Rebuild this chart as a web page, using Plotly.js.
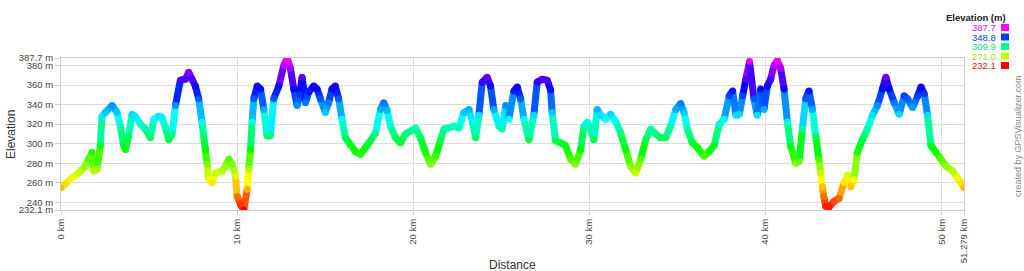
<!DOCTYPE html>
<html><head><meta charset="utf-8">
<script src="https://cdn.plot.ly/plotly-3.0.1.min.js"></script>
<style>html,body{margin:0;padding:0;background:#fff}#chart{width:1024px;height:271px}</style>
</head><body><div id="chart"></div>
<script>
const distanceKm = [0.00,0.25,0.63,1.00,1.38,1.57,1.76,1.86,2.05,2.23,2.33,2.52,2.90,3.18,3.37,3.56,3.66,3.84,4.03,4.22,4.51,4.79,5.08,5.27,5.55,5.74,5.93,6.12,6.31,6.50,6.78,7.06,7.25,7.44,7.63,7.82,8.01,8.10,8.20,8.30,8.39,8.58,8.77,9.15,9.34,9.53,9.72,9.91,10.00,10.19,10.38,10.57,10.66,10.76,10.85,10.95,11.14,11.33,11.52,11.70,11.89,12.08,12.37,12.65,12.84,13.03,13.22,13.41,13.55,13.69,13.88,14.07,14.35,14.54,14.73,15.01,15.20,15.39,15.58,15.77,15.96,16.15,16.43,16.72,17.00,17.29,17.57,17.86,18.14,18.33,18.52,18.71,19.00,19.28,19.56,19.85,20.13,20.42,20.70,20.99,21.27,21.56,21.75,22.03,22.32,22.60,22.88,23.17,23.36,23.55,23.73,23.92,24.20,24.39,24.58,24.87,25.06,25.25,25.43,25.72,25.91,26.10,26.29,26.57,26.85,27.04,27.33,27.61,27.80,27.89,28.08,28.37,28.65,28.94,29.22,29.51,29.70,29.89,30.07,30.26,30.45,30.64,30.93,31.21,31.49,31.78,32.06,32.35,32.63,32.92,33.20,33.49,33.77,34.05,34.34,34.62,34.91,35.19,35.38,35.57,35.85,36.14,36.52,36.80,37.09,37.38,37.66,37.95,38.14,38.33,38.52,38.71,38.89,39.10,39.35,39.54,39.73,39.92,40.11,40.30,40.49,40.68,40.87,41.06,41.25,41.43,41.72,41.91,42.10,42.29,42.48,42.67,42.86,43.04,43.14,43.23,43.32,43.42,43.61,43.90,44.18,44.47,44.66,44.85,45.03,45.22,45.51,45.79,46.08,46.36,46.65,46.84,47.03,47.32,47.60,47.88,48.07,48.36,48.65,48.84,49.02,49.21,49.40,49.69,49.97,50.26,50.64,50.92,51.279];
const elevationM = [255,259,265,270,277,284,291,272,274,298,328,332,339,332,318,298,294,308,330,328,320,315,306,325,328,327,316,304,310,339,365,366,373,366,359,346,322,308,294,279,263,260,270,272,277,284,279,267,246,238,232.1,253,274,294,322,346,359,356,335,308,308,346,359,380,387.7,377,356,339,350,368,342,353,359,356,346,332,342,356,359,346,325,306,299,292,289,296,303,311,335,342,334,318,306,301,310,313,316,306,291,279,287,304,315,316,318,316,332,335,322,306,329,363,368,359,335,318,315,339,325,354,358,346,325,304,329,363,366,365,355,332,303,301,298,284,279,294,318,322,315,304,335,329,325,330,323,311,294,277,270,284,304,315,310,306,306,318,335,341,332,315,301,296,287,292,298,320,325,349,354,329,330,349,366,384,346,329,356,335,359,366,380,385,377,356,322,298,280,282,315,346,354,335,308,284,270,256,246,236,235,241,244,260,268,256,263,291,304,315,329,339,356,368,356,342,330,349,346,337,349,358,351,329,298,291,284,277,272,265,255];
const xTickVals = [0,10,20,30,40,50,51.279];
const xTickText = ['0 km','10 km','20 km','30 km','40 km','50 km','51.279 km'];
const yTickVals = [232.1,240,260,280,300,320,340,360,380,387.7];
const yTickText = ['232.1 m','240 m','260 m','280 m','300 m','320 m','340 m','360 m','380 m','387.7 m'];
const legendValues = [387.7,348.8,309.9,271.0,232.1];
const legendLabels = ['387.7','348.8','309.9','271.0','232.1'];

const yMin = 232.1, yMax = 387.7;
function hslToRgb(h, s, l){
  s/=100; l/=100;
  const k = n => (n + h/30) % 12;
  const a = s*Math.min(l,1-l);
  const f = n => l - a*Math.max(-1, Math.min(k(n)-3, Math.min(9-k(n), 1)));
  return 'rgb(' + Math.round(255*f(0)) + ',' + Math.round(255*f(8)) + ',' + Math.round(255*f(4)) + ')';
}
function hue(v){ return 300*(v-yMin)/(yMax-yMin); }
function col(v){ return hslToRgb(hue(v),100,50); }
function textCol(v){ return hslToRgb(hue(v),85,46); }

const traces = [];
for (let i = 0; i < distanceKm.length-1; i++){
  traces.push({type:'scatter', mode:'lines', x:[distanceKm[i],distanceKm[i+1]], y:[elevationM[i],elevationM[i+1]],
    line:{color:col((elevationM[i]+elevationM[i+1])/2), width:7}, hoverinfo:'skip', showlegend:false});
}
const cs = [];
for (let k = 0; k <= 20; k++){ cs.push([k/20, col(yMin+(yMax-yMin)*k/20)]); }
traces.push({type:'scatter', mode:'markers', x:distanceKm, y:elevationM,
  marker:{size:7, color:elevationM, colorscale:cs, cmin:yMin, cmax:yMax, line:{width:0}}, showlegend:false, hoverinfo:'skip'});

const L = 61, R = 60, T = 58, B = 61, W = 1024, H = 271;
const pw = W-L-R, ph = H-T-B;
const px = X => (X-L)/pw;
const py = Y => (H-B-Y)/ph;

const annotations = [
  {text:'Elevation', x:px(11), y:py(135), xref:'paper', yref:'paper', showarrow:false, textangle:-90, xanchor:'center', yanchor:'middle', font:{size:12, color:'#333'}},
  {text:'Distance', x:px(512), y:py(265), xref:'paper', yref:'paper', showarrow:false, xanchor:'center', yanchor:'middle', font:{size:12, color:'#333'}},
  {text:'<b>Elevation (m)</b>', x:px(976), y:py(17), xref:'paper', yref:'paper', showarrow:false, xanchor:'center', yanchor:'middle', font:{size:9.5, color:'#222'}},
  {text:'created by GPSVisualizer.com', x:px(1018), y:py(137), xref:'paper', yref:'paper', showarrow:false, textangle:-90, xanchor:'center', yanchor:'middle', font:{size:9, color:'#888'}}
];
const shapes = [];
const legY = [27.5, 37, 46.5, 56, 65.5];
legendValues.forEach((v, i) => {
  annotations.push({text:legendLabels[i], x:px(997.5), y:py(legY[i]), xref:'paper', yref:'paper', showarrow:false, xanchor:'right', yanchor:'middle', font:{size:9.5, color:textCol(v)}});
  shapes.push({type:'rect', xref:'paper', yref:'paper', x0:px(1001), x1:px(1009), y0:py(legY[i]+3.5), y1:py(legY[i]-3.5), fillcolor:col(v), line:{width:0}});
});

const layout = {
  width:W, height:H, margin:{l:L, r:R, t:T, b:B}, paper_bgcolor:'#fff', plot_bgcolor:'#fff',
  font:{family:'"Liberation Sans", Arial, sans-serif', color:'#444'},
  showlegend:false,
  xaxis:{range:[0,51.279], tickvals:xTickVals, ticktext:xTickText, tickangle:-90, showgrid:true, gridcolor:'#dcdcdc', zeroline:false,
    showline:true, mirror:true, linecolor:'#cccccc', ticks:'outside', ticklen:4, tickcolor:'#cccccc', tickfont:{size:9.5, color:'#444'}, fixedrange:true},
  yaxis:{range:[yMin,yMax], tickvals:yTickVals, ticktext:yTickText, showgrid:true, gridcolor:'#dcdcdc', zeroline:false,
    showline:true, mirror:true, linecolor:'#cccccc', ticks:'outside', ticklen:5, tickcolor:'#cccccc', tickfont:{size:9.5, color:'#444'}, fixedrange:true},
  annotations:annotations, shapes:shapes
};
Plotly.newPlot('chart', traces, layout, {staticPlot:true, displayModeBar:false});
</script></body></html>
